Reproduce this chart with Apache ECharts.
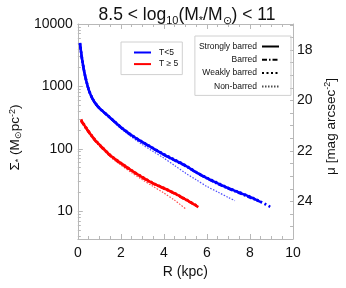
<!DOCTYPE html>
<html><head><meta charset="utf-8">
<script src="https://cdn.jsdelivr.net/npm/echarts@6/dist/echarts.min.js"></script>
<style>html,body{margin:0;padding:0;background:#fff}#c{width:346px;height:288px}</style>
</head><body><div id="c"></div>
<script>
// ---- data ----
const rBlueStrong = [0.1,0.2,0.3,0.4,0.5,0.6,0.7,0.8,1.0,1.2,1.5,2.0,2.5,3.0,3.5,4.0,4.5,5.0,5.5,6.0,6.5,7.0,7.5,8.0,8.4];
const sBlueStrong = [4900,2700,1700,1200,900,730,620,545,450,390,316,222,165,128,102,81,66,54,42,34,28,23.4,20,17,14.6];
const rBlueBarred = [0.1,0.2,0.3,0.4,0.5,0.6,0.7,0.8,1.0,1.2,1.5,2.0,2.5,3.0,3.5,4.0,4.5,5.0,5.5,6.0,6.5,7.0,7.5,8.0,8.6];
const sBlueBarred = [4800,2650,1680,1190,890,722,614,540,446,387,313,219,163,127,101,80,65,53,42,33.5,27.5,23,19.6,16.6,13.6];
const rBlueWeak   = [0.1,0.2,0.3,0.4,0.5,0.6,0.7,0.8,1.0,1.2,1.5,2.0,2.5,3.0,3.5,4.0,4.5,5.0,5.5,6.0,6.5,7.0,7.5,8.0,8.5,9.0];
const sBlueWeak   = [5000,2750,1720,1215,910,738,626,550,454,393,318,224,166,129,103,82,67,54.5,42.5,34.5,28.5,23.6,20.2,17.2,14.2,11.5];
const rBlueNon    = [0.1,0.2,0.3,0.4,0.5,0.6,0.7,0.8,1.0,1.2,1.5,2.0,2.5,3.0,3.5,4.0,4.5,5.0,5.5,6.0,6.5,7.0,7.3];
const sBlueNon    = [4500,2500,1600,1140,860,700,597,527,437,380,305,213,155,117,91,71,54,41,32,25,20.4,16.6,14.8];

const rRedStrong = [0.15,0.3,0.45,0.6,0.8,1.0,1.2,1.5,2.0,2.5,3.0,3.5,4.0,4.5,5.0,5.6];
const sRedStrong = [288,240,200,170,138,117,100,79,59,45,35,28,23.4,19.3,15.5,11.7];
const rRedBarred = [0.15,0.3,0.45,0.6,0.8,1.0,1.2,1.5,2.0,2.5,3.0,3.5,4.0,4.5,5.0,5.5];
const sRedBarred = [280,235,196,167,136,115,98,78,58,44.5,34.6,27.7,23.1,19.1,15.3,12.4];
const rRedWeak   = [0.15,0.3,0.45,0.6,0.8,1.0,1.2,1.5,2.0,2.5,3.0,3.5,4.0,4.5,5.0,5.6];
const sRedWeak   = [296,244,203,172,140,118,101,80,59.5,45.5,35.4,28.3,23.6,19.5,15.7,11.9];
const rRedNon    = [0.15,0.3,0.45,0.6,0.8,1.0,1.2,1.5,2.0,2.5,3.0,3.5,4.0,4.5,5.0];
const sRedNon    = [270,228,191,163,133,112,95,75,55,41.5,32,25,19.6,15,11];

const xLabels = [0,2,4,6,8,10];
const yLabels = [10,100,1000,10000];
const muLabels = [18,20,22,24];
const legendTypes = ['Strongly barred','Barred','Weakly barred','Non-barred'];
const legendMorph = ['T<5','T \u2265 5'];

// ---- helpers ----
const pairs = (r, s) => r.map((v, i) => [v, s[i]]);
const yMin = 3.6, yMax = 10000;
const muMin = 16.97, muMax = 25.49;
const minorY = [];
for (let d = 1; d <= 1000; d *= 10) for (let k = 2; k <= 9; k++) { const v = k * d; if (v >= yMin && v <= yMax) minorY.push(v); }
const muTicks = [];
for (let m = 17; m <= 25.5; m += 0.5) muTicks.push(m);

const BLUE = '#0000ff', RED = '#ff0000';
const styles = {
  'Strongly barred': {type: 'solid', width: 2.6},
  'Barred': {type: [5, 2, 1.5, 2], width: 2.4},
  'Weakly barred': {type: [2, 2.5], width: 2.6},
  'Non-barred': {type: [1.5, 1.5], width: 1.2, opacity: 0.7}
};
function dataSeries(name, color, r, s) {
  const st = styles[name];
  return {
    type: 'line', name: name + ' ' + color, data: pairs(r, s), xAxisIndex: 0, yAxisIndex: 0,
    showSymbol: false, symbol: 'none', smooth: 0.3, silent: true, z: name === 'Non-barred' ? 1 : 2,
    lineStyle: {color: color, width: st.width, type: st.type, opacity: st.opacity || 1}
  };
}
const series = [
  dataSeries('Non-barred', BLUE, rBlueNon, sBlueNon),
  dataSeries('Weakly barred', BLUE, rBlueWeak, sBlueWeak),
  dataSeries('Barred', BLUE, rBlueBarred, sBlueBarred),
  dataSeries('Strongly barred', BLUE, rBlueStrong, sBlueStrong),
  dataSeries('Non-barred', RED, rRedNon, sRedNon),
  dataSeries('Weakly barred', RED, rRedWeak, sRedWeak),
  dataSeries('Barred', RED, rRedBarred, sRedBarred),
  dataSeries('Strongly barred', RED, rRedStrong, sRedStrong)
];
// legend-only series
legendMorph.forEach((n, i) => series.push({type: 'line', name: n, data: [], symbol: 'none',
  lineStyle: {color: i === 0 ? BLUE : RED, width: 2}, itemStyle: {color: i === 0 ? BLUE : RED}}));
legendTypes.forEach(n => { const st = styles[n]; series.push({type: 'line', name: n, data: [], symbol: 'none',
  lineStyle: {color: '#000', width: n === 'Non-barred' ? 1 : 2, type: st.type, opacity: st.opacity || 1}, itemStyle: {color: '#000'}}); });

const AX = '#b8b8b8', TXT = '#111';
const FONT = 'Liberation Sans, Arial, sans-serif';
const hideSym = {color: 'rgba(0,0,0,0)', opacity: 0, borderWidth: 0};
const chart = echarts.init(document.getElementById('c'), null, {renderer: 'canvas'});
chart.setOption({
  animation: false,
  backgroundColor: '#fff',
  textStyle: {fontFamily: FONT},
  title: {
    text: '8.5 < log{s|10}(M{s|*}/M{s|\u2299}) < 11',
    left: 182, top: 0, textAlign: 'center',
    textStyle: {fontSize: 17.5, fontWeight: 'normal', color: TXT, fontFamily: FONT,
      rich: {s: {fontSize: 11, verticalAlign: 'bottom', padding: [10, 0, 0, 0], color: TXT}}}
  },
  grid: {left: 77, right: 46, top: 24, bottom: 49},
  legend: [
    {data: legendMorph, orient: 'vertical', left: 121, top: 42, padding: [5.5, 4, 5.5, 12],
      itemWidth: 17, itemHeight: 10, itemGap: 1.6, borderColor: '#d0d0d0', borderWidth: 1, selectedMode: false,
      itemStyle: hideSym,
      textStyle: {fontSize: 8.5, color: TXT, lineHeight: 10, padding: [0, 0, 0, 3]}},
    {data: legendTypes, orient: 'vertical', align: 'right', right: 55, top: 36, padding: [5.5, 11, 4, 4],
      itemWidth: 17, itemHeight: 10, itemGap: 3.3, borderColor: '#d0d0d0', borderWidth: 1, selectedMode: false,
      itemStyle: hideSym,
      textStyle: {fontSize: 8.5, color: TXT, lineHeight: 10}}
  ],
  xAxis: [
    {type: 'value', min: 0, max: 10, interval: 2, position: 'bottom',
      name: 'R (kpc)', nameLocation: 'middle', nameGap: 22, nameTextStyle: {fontSize: 14, color: TXT},
      axisLine: {lineStyle: {color: AX}}, splitLine: {show: false},
      axisTick: {inside: true, length: 5, lineStyle: {color: AX}},
      minorTick: {show: true, splitNumber: 4, length: 3, lineStyle: {color: AX}},
      axisLabel: {fontSize: 14, color: TXT, margin: 7, customValues: xLabels}},
    {type: 'value', min: 0, max: 10, interval: 2, position: 'top',
      axisLine: {lineStyle: {color: AX}}, splitLine: {show: false},
      axisTick: {inside: true, length: 5, lineStyle: {color: AX}},
      minorTick: {show: true, splitNumber: 4, length: 3, lineStyle: {color: AX}},
      axisLabel: {show: false}}
  ],
  yAxis: [
    {type: 'log', logBase: 10, min: yMin, max: yMax, position: 'left',
      name: '\u03a3{s|*} (M{s|\u2299}pc{p|-2})', nameLocation: 'middle', nameGap: 46, nameRotate: 90,
      nameTextStyle: {fontSize: 13.5, color: TXT, padding: [0, 12, 0, 0],
        rich: {s: {fontSize: 9, verticalAlign: 'bottom', padding: [6, 0, 0, 0], color: TXT},
               p: {fontSize: 9, verticalAlign: 'top', padding: [0, 0, 6, 0], color: TXT}}},
      axisLine: {lineStyle: {color: AX}}, splitLine: {show: false},
      axisTick: {inside: true, length: 5, customValues: yLabels, lineStyle: {color: AX}},
      axisLabel: {fontSize: 14, color: TXT, margin: 5, customValues: yLabels, formatter: v => String(Math.round(v))}},
    {type: 'log', logBase: 10, min: yMin, max: yMax, position: 'left',
      axisLine: {show: false}, splitLine: {show: false},
      axisTick: {inside: true, length: 3, customValues: minorY, lineStyle: {color: AX}},
      axisLabel: {show: false}},
    {type: 'value', inverse: true, min: muMin, max: muMax, position: 'right',
      name: '\u03bc [mag arcsec{p|-2}]', nameLocation: 'middle', nameGap: 28, nameRotate: 90,
      nameTextStyle: {fontSize: 13.5, color: TXT, padding: [0, 0, 0, 10],
        rich: {p: {fontSize: 9, verticalAlign: 'top', padding: [0, 0, 6, 0], color: TXT}}},
      axisLine: {lineStyle: {color: AX}}, splitLine: {show: false},
      axisTick: {inside: true, length: 3, customValues: muTicks, lineStyle: {color: AX}},
      axisLabel: {fontSize: 14, color: TXT, margin: 4, customValues: muLabels}}
  ],
  series: series
});
</script></body></html>
